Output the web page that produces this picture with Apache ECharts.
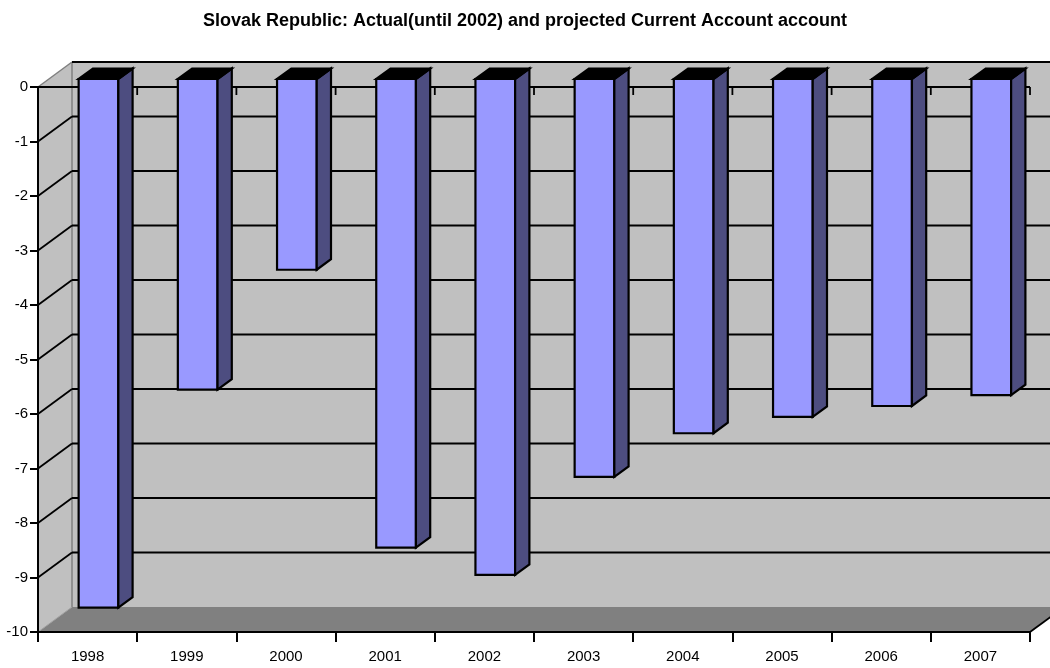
<!DOCTYPE html>
<html>
<head>
<meta charset="utf-8">
<script src="https://cdn.jsdelivr.net/npm/echarts@6/dist/echarts.min.js"></script>
<style>
  html, body { margin: 0; padding: 0; background: #ffffff; }
  #chart { width: 1050px; height: 668px; }
</style>
</head>
<body>
<div id="chart"></div>
<script>
// Current account balance (% of GDP), actual until 2002, projected afterwards
const years = ['1998', '1999', '2000', '2001', '2002', '2003', '2004', '2005', '2006', '2007'];
const currentAccount = [-9.7, -5.7, -3.5, -8.6, -9.1, -7.3, -6.5, -6.2, -6.0, -5.8];
const valueTicks = [0, -1, -2, -3, -4, -5, -6, -7, -8, -9, -10];

// Pseudo-3D box: depth vector of the walls, and where the column slab sits in that depth
const DEPTH = [34, -25];
const BAR_FRONT = 0.32;
const BAR_BACK = 0.74;
const BAR_WIDTH = 0.4;
const FONT = "'Liberation Sans', Arial, sans-serif";

function line(x1, y1, x2, y2, color, width) {
  return {
    type: 'line',
    shape: { x1: x1, y1: y1, x2: x2, y2: y2 },
    style: { stroke: color, lineWidth: width }
  };
}

// Back wall, side wall, floor, gridlines and the zero line
function renderWalls(params, api) {
  const cs = params.coordSys;
  const L = cs.x, R = cs.x + cs.width, T = cs.y, B = cs.y + cs.height;
  const dx = DEPTH[0], dy = DEPTH[1];
  const band = api.size([1, 0])[0];
  const vMin = Math.min.apply(null, valueTicks);
  const kids = [];

  kids.push({ type: 'rect', shape: { x: L + dx, y: T + dy, width: cs.width, height: cs.height },
              style: { fill: '#c0c0c0' } });
  kids.push({ type: 'polygon', shape: { points: [[L, T], [L + dx, T + dy], [L + dx, B + dy], [L, B]] },
              style: { fill: '#c0c0c0' } });
  kids.push({ type: 'polygon', shape: { points: [[L, B], [R, B], [R + dx, B + dy], [L + dx, B + dy]] },
              style: { fill: '#808080' } });

  // wall edges
  kids.push(line(L + dx, T + dy, L + dx, B + dy, '#808080', 1.5));
  kids.push(line(L, T, L + dx, T + dy, '#808080', 1.5));
  kids.push(line(L, B, L + dx, B + dy, '#a0a0a0', 1));

  valueTicks.forEach(function (v) {
    if (v === vMin) return;
    const y = api.coord([0, v])[1];
    kids.push(line(L + dx, y + dy, R + dx, y + dy, '#000000', 1.8));
    if (v !== 0) kids.push(line(L, y, L + dx, y + dy, '#000000', 1.8));
  });

  // floor right edge
  kids.push(line(R, B, R + dx, B + dy, '#000000', 1.8));

  // zero line with its small category ticks
  const y0 = api.coord([0, 0])[1];
  kids.push(line(L, y0, R, y0, '#000000', 1.8));
  for (let k = 1; k <= years.length; k++) {
    const x = L + k * band;
    kids.push(line(x, y0, x, y0 + 8, '#000000', 1.8));
  }
  return { type: 'group', children: kids, silent: true };
}

// One 3D column: front face, right side face, top face
function renderColumn(params, api) {
  const i = api.value(0);
  const v = api.value(1);
  const band = api.size([1, 0])[0];
  const base = api.coord([i, 0]);
  const end = api.coord([i, v]);
  const w = band * BAR_WIDTH;
  const f = [DEPTH[0] * BAR_FRONT, DEPTH[1] * BAR_FRONT];
  const b = [DEPTH[0] * BAR_BACK, DEPTH[1] * BAR_BACK];
  const xl = base[0] - w / 2, xr = base[0] + w / 2;
  const y0 = base[1], y1 = end[1];
  const edge = { stroke: '#000000', lineWidth: 2.2, lineJoin: 'miter' };
  return {
    type: 'group',
    children: [
      { type: 'polygon',
        shape: { points: [[xl + f[0], y0 + f[1]], [xr + f[0], y0 + f[1]], [xr + f[0], y1 + f[1]], [xl + f[0], y1 + f[1]]] },
        style: Object.assign({ fill: '#9999ff' }, edge) },
      { type: 'polygon',
        shape: { points: [[xr + f[0], y0 + f[1]], [xr + b[0], y0 + b[1]], [xr + b[0], y1 + b[1]], [xr + f[0], y1 + f[1]]] },
        style: Object.assign({ fill: '#4d4d80' }, edge) },
      { type: 'polygon',
        shape: { points: [[xl + f[0], y0 + f[1]], [xr + f[0], y0 + f[1]], [xr + b[0], y0 + b[1]], [xl + b[0], y0 + b[1]]] },
        style: Object.assign({ fill: '#000000' }, edge) }
    ]
  };
}

const chart = echarts.init(document.getElementById('chart'), null, { renderer: 'canvas' });
chart.setOption({
  animation: false,
  backgroundColor: '#ffffff',
  title: {
    text: 'Slovak Republic: Actual(until 2002) and projected Current Account account',
    left: 'center',
    top: 7,
    textStyle: { fontFamily: FONT, fontSize: 18, fontWeight: 'bold', color: '#000000' }
  },
  grid: { left: 38, right: 20, top: 87, bottom: 36, containLabel: false },
  xAxis: {
    type: 'category',
    data: years,
    boundaryGap: true,
    z: 3,
    axisLine: { onZero: false, lineStyle: { color: '#000000', width: 2 } },
    axisTick: { show: true, length: 10, interval: 0, lineStyle: { color: '#000000', width: 2 } },
    axisLabel: { interval: 0, margin: 17, fontFamily: FONT, fontSize: 15, color: '#000000' },
    splitLine: { show: false }
  },
  yAxis: {
    type: 'value',
    min: -10,
    max: 0,
    interval: 1,
    z: 3,
    axisLine: { show: true, lineStyle: { color: '#000000', width: 2 } },
    axisTick: { show: true, length: 8, lineStyle: { color: '#000000', width: 2 } },
    axisLabel: { margin: 10, fontFamily: FONT, fontSize: 15, color: '#000000' },
    splitLine: { show: false }
  },
  series: [
    {
      type: 'custom',
      name: 'walls',
      z: 1,
      silent: true,
      renderItem: renderWalls,
      data: [[0, 0]],
      encode: { x: 0, y: 1 }
    },
    {
      type: 'custom',
      name: 'Current account',
      z: 2,
      renderItem: renderColumn,
      data: years.map(function (y, i) { return [i, currentAccount[i]]; }),
      encode: { x: 0, y: 1 }
    }
  ]
});
</script>
</body>
</html>
